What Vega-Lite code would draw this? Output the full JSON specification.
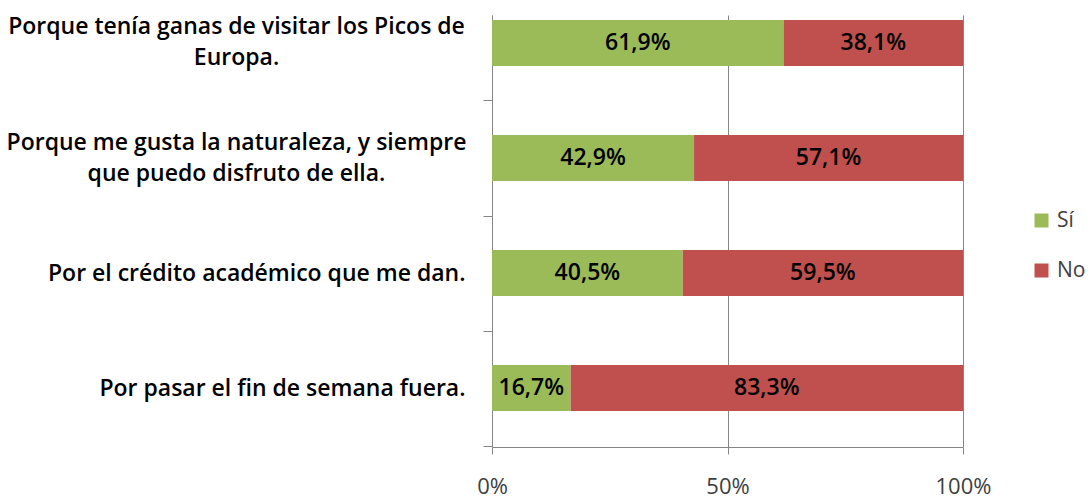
{
  "$schema": "https://vega.github.io/schema/vega-lite/v6.json",
  "width": 471,
  "height": 432,
  "autosize": {"type": "none"},
  "padding": {"left": 492, "top": 15, "right": 129, "bottom": 52},
  "background": "white",
  "config": {
    "view": {"stroke": null},
    "locale": {"number": {"decimal": ",", "thousands": ".", "grouping": [3], "currency": ["", " €"]}},
    "font": "Open Sans"
  },
  "data": {
    "values": [
      {"q": "Porque tenía ganas de visitar los Picos de Europa.", "resp": "Sí", "pct": 61.9},
      {"q": "Porque tenía ganas de visitar los Picos de Europa.", "resp": "No", "pct": 38.1},
      {"q": "Porque me gusta la naturaleza, y siempre que puedo disfruto de ella.", "resp": "Sí", "pct": 42.9},
      {"q": "Porque me gusta la naturaleza, y siempre que puedo disfruto de ella.", "resp": "No", "pct": 57.1},
      {"q": "Por el crédito académico que me dan.", "resp": "Sí", "pct": 40.5},
      {"q": "Por el crédito académico que me dan.", "resp": "No", "pct": 59.5},
      {"q": "Por pasar el fin de semana fuera.", "resp": "Sí", "pct": 16.7},
      {"q": "Por pasar el fin de semana fuera.", "resp": "No", "pct": 83.3}
    ]
  },
  "transform": [
    {"stack": "pct", "groupby": ["q"], "sort": [{"field": "resp", "order": "descending"}], "offset": "normalize", "as": ["x0", "x1"]},
    {"calculate": "(datum.x0 + datum.x1) / 2", "as": "xm"},
    {"calculate": "format(datum.pct / 100, '.1%')", "as": "lab"}
  ],
  "resolve": {"axis": {"y": "independent"}},
  "layer": [
    {
      "mark": {"type": "bar"},
      "encoding": {
        "y": {
          "field": "q",
          "type": "nominal",
          "sort": null,
          "title": null,
          "scale": {"paddingInner": 0.6, "paddingOuter": 0.178, "align": 0.122},
          "axis": {
            "orient": "left",
            "domainColor": "#868686",
            "tickColor": "#868686",
            "tickSize": 9,
            "tickOffset": 57.5,
            "labelOffset": -57.5,
            "labelFont": "Open Sans",
            "labelFontWeight": 600,
            "labelFontSize": 23,
            "labelColor": "#000000",
            "labelLimit": 0,
            "labelPadding": 18,
            "labelExpr": "indexof(datum.value, 'Porque') == 0 ? '' : datum.value"
          }
        },
        "x": {
          "field": "x0",
          "type": "quantitative",
          "title": null,
          "scale": {"domain": [0, 1], "nice": false},
          "axis": {
            "values": [0, 0.5, 1],
            "format": "%",
            "grid": true,
            "gridColor": "#868686",
            "domainColor": "#868686",
            "tickColor": "#868686",
            "tickSize": 7,
            "labelFlush": false,
            "labelPadding": 22,
            "labelFont": "Open Sans",
            "labelFontSize": 22,
            "labelColor": "#404040"
          }
        },
        "x2": {"field": "x1"},
        "color": {
          "field": "resp",
          "type": "nominal",
          "scale": {"domain": ["Sí", "No"], "range": ["#9BBB59", "#C0504D"]},
          "legend": {
            "title": null,
            "orient": "none",
            "legendX": 539,
            "legendY": 195,
            "symbolType": "square",
            "symbolSize": 196,
            "symbolStrokeWidth": 0,
            "labelFont": "Open Sans",
            "labelFontSize": 21,
            "labelColor": "#404040",
            "labelOffset": 5,
            "rowPadding": 28
          }
        }
      }
    },
    {
      "mark": {"type": "text", "fontSize": 23, "font": "Open Sans", "fontWeight": 600, "color": "#000000", "baseline": "middle", "align": "center"},
      "encoding": {
        "y": {
          "field": "q",
          "type": "nominal",
          "sort": null,
          "title": null,
          "axis": {
            "orient": "left",
            "domain": false,
            "ticks": false,
            "tickSize": 0,
            "labelFont": "Open Sans",
            "labelFontWeight": 600,
            "labelFontSize": 23,
            "labelColor": "#000000",
            "labelLimit": 0,
            "labelLineHeight": 31,
            "labelAlign": "center",
            "labelOffset": -15.5,
            "labelPadding": 256,
            "labelExpr": "datum.value == 'Porque tenía ganas de visitar los Picos de Europa.' ? ['Porque tenía ganas de visitar los Picos de', 'Europa.'] : datum.value == 'Porque me gusta la naturaleza, y siempre que puedo disfruto de ella.' ? ['Porque me gusta la naturaleza, y siempre', 'que puedo disfruto de ella.'] : ''"
          }
        },
        "x": {"field": "xm", "type": "quantitative"},
        "text": {"field": "lab"}
      }
    }
  ]
}
